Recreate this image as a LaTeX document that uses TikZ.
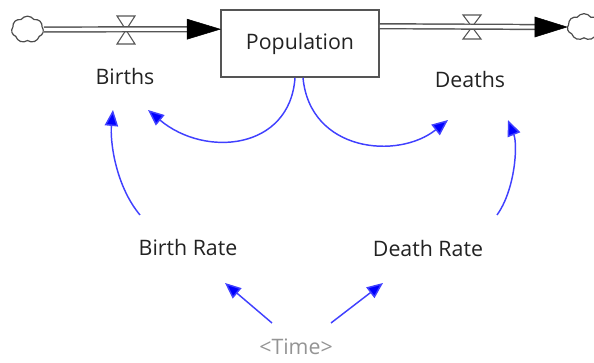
\documentclass[tikz,border=0pt]{standalone}
\usepackage{fontspec}
\setmainfont{Open Sans}
\usetikzlibrary{arrows.meta,shapes.symbols,calc}
\definecolor{linkblue}{HTML}{4040FF}
\definecolor{txt}{HTML}{222222}
\definecolor{pipegray}{HTML}{555555}
\tikzset{
  lbl/.style={font=\fontsize{16}{18}\selectfont, text=txt, inner sep=0pt},
  stock/.style={draw=pipegray, line width=1.2pt, minimum width=118.5pt, minimum height=50.25pt, inner sep=0pt, font=\fontsize{16}{18}\selectfont, text=txt},
  cloudnode/.style={cloud, cloud puffs=7, cloud puff arc=110, draw=black!70, line width=0.9pt, inner sep=0pt, fill=white},
  pipe/.style={draw=pipegray, line width=1.1pt, double=white, double distance=2.5pt},
  flowhead/.style={fill=black, draw=black, line width=0.4pt},
  valveshape/.style={draw=pipegray, fill=white, line width=0.8pt},
  link/.style={draw=linkblue, line width=1.1pt, -{Triangle[length=12pt,width=10pt,fill=blue]}},
}
\begin{document}
\begin{tikzpicture}[x=0.75pt,y=-0.75pt]
\useasboundingbox (0,0) rectangle (594,363);
\clip (0,0) rectangle (594,363);
% nodes
\node[stock] (pop) at (300,43.5) {\raisebox{-2pt}{Population}};
\node[cloudnode, minimum width=24pt, minimum height=20pt] (cloudL) at (27.5,29.5) {};
\node[cloudnode, minimum width=25pt, minimum height=20pt] (cloudR) at (584,27) {};
\node[lbl] (births) at (125,77) {Births};
\node[lbl] (deaths) at (470,80) {Deaths};
\node[lbl] (brate) at (188,248) {Birth Rate};
\node[lbl] (drate) at (428,249) {Death Rate};
\node[lbl, text=black!42] (time) at (296,347) {<Time>};
\coordinate (inB) at ($(pop.north west)+(0,20)$);
\coordinate (outD) at ($(pop.north east)+(0,17)$);
\coordinate (vB) at (126,30);
\coordinate (vD) at (472,27);
% valves
\foreach \v/\h in {vB/14,vD/12}{
  \path[valveshape] ($(\v)+(-9,-\h)$) -- ($(\v)+(9,-\h)$) -- (\v) -- cycle;
  \path[valveshape] ($(\v)+(-9,\h)$) -- ($(\v)+(9,\h)$) -- (\v) -- cycle;
}
% pipes
\draw[pipe] (cloudL.east) -- ($(inB)+(-33,0)$);
\path[flowhead] (inB) -- ($(inB)+(-33,-10)$) -- ($(inB)+(-33,10)$) -- cycle;
\draw[pipe] (outD) -- ($(cloudR.west)+(-32,0)$);
\path[flowhead] (cloudR.west) -- ($(cloudR.west)+(-32,-10)$) -- ($(cloudR.west)+(-32,10)$) -- cycle;
% links
\draw[link] ($(pop.south)+(-5,0)$) .. controls (290,150) and (205,158) .. ($(births)+(23,33)$);
\draw[link] ($(pop.south)+(3,0)$) .. controls (310,152) and (398,160) .. ($(deaths)+(-22,40)$);
\draw[link] ($(brate)+(-48,-33)$) .. controls (115,185) and (110,140) .. ($(births)+(-12,33)$);
\draw[link] ($(drate)+(69,-34)$) .. controls (515,190) and (518,145) .. ($(deaths)+(38,40)$);
\draw[link] ($(time)+(-24,-24)$) -- ($(brate)+(37,35)$);
\draw[link] ($(time)+(35,-24)$) -- ($(drate)+(-45,34)$);
\end{tikzpicture}
\end{document}
